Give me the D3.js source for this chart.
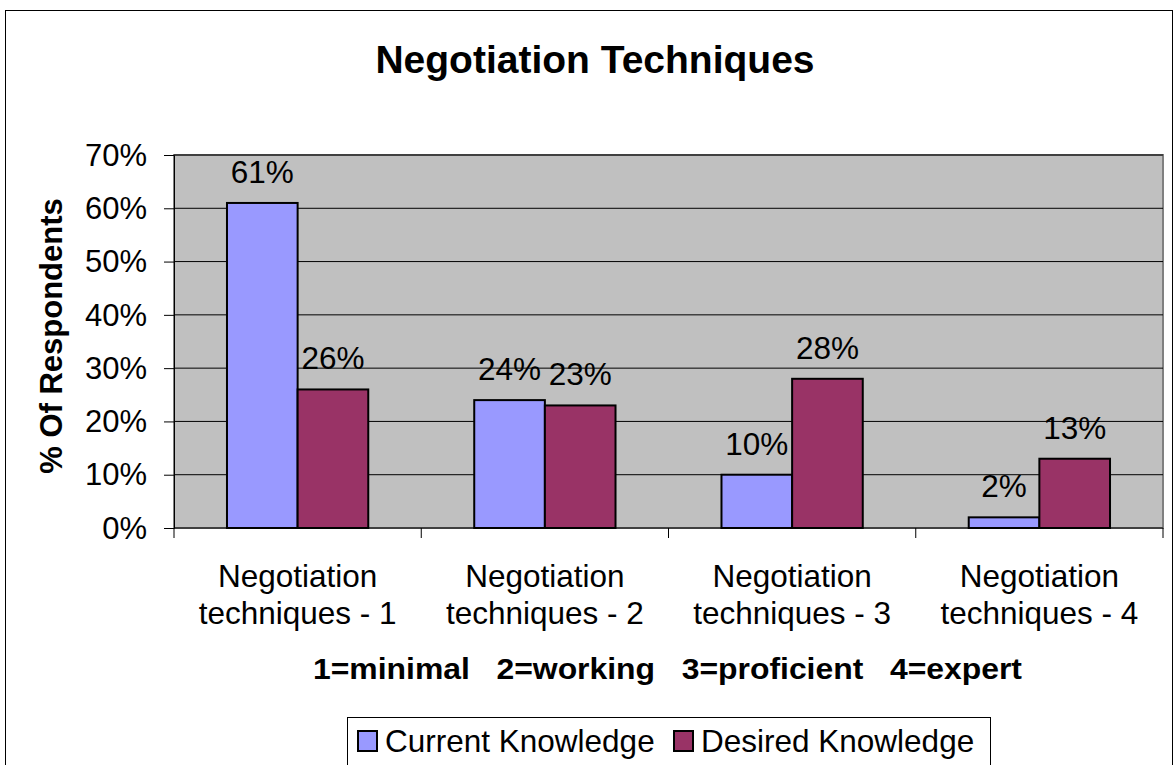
<!DOCTYPE html>
<html>
<head>
<meta charset="utf-8">
<script src="https://cdn.jsdelivr.net/npm/d3@7"></script>
<style>
body { margin: 0; background: #fff; }
text { font-family: "Liberation Sans", Arial, sans-serif; fill: #000; }
</style>
</head>
<body>
<svg id="chart" width="1173" height="765"></svg>
<script>
categories = ['Negotiation techniques - 1', 'Negotiation techniques - 2', 'Negotiation techniques - 3', 'Negotiation techniques - 4'];
seriesNames = ['Current Knowledge', 'Desired Knowledge'];
current = [61, 24, 10, 2];
desired = [26, 23, 28, 13];
yTicks = [0, 10, 20, 30, 40, 50, 60, 70];
colors = ['#9999FF', '#993366'];

width = 1173;
height = 765;
plot = {left: 174, top: 155, right: 1163, bottom: 528};
FONT = '"Liberation Sans", Arial, sans-serif';

svg = d3.select('#chart');

// outer chart border
svg.append('rect')
	.attr('x', 5.5).attr('y', 10.5)
	.attr('width', width - 6).attr('height', height)
	.attr('fill', '#fff').attr('stroke', '#000').attr('stroke-width', 1);

x = d3.scaleBand().domain(categories).range([plot.left, plot.right]);
y = d3.scaleLinear().domain([0, 70]).range([plot.bottom, plot.top]);
// gap width 150% -> group takes 2/3.5 of category
xs = d3.scaleBand().domain(seriesNames)
	.range([0, x.bandwidth() * 2 / 3.5]);
groupOffset = x.bandwidth() * 0.75 / 3.5;

// plot background
svg.append('rect')
	.attr('x', plot.left).attr('y', plot.top)
	.attr('width', plot.right - plot.left).attr('height', plot.bottom - plot.top)
	.attr('fill', '#C0C0C0').attr('stroke', '#808080').attr('stroke-width', 2);

// gridlines
svg.append('g').selectAll('line')
	.data(yTicks.filter(d => d > 0))
	.join('line')
	.attr('x1', plot.left).attr('x2', plot.right)
	.attr('y1', d => y(d)).attr('y2', d => y(d))
	.attr('stroke', '#000').attr('stroke-width', 1);

// y axis
yAxis = svg.append('g')
	.attr('transform', `translate(${plot.left},0)`)
	.call(d3.axisLeft(y).tickValues(yTicks).tickFormat(d => d + '%').tickSize(10).tickPadding(17));
yAxis.select('.domain').attr('stroke', '#000').attr('stroke-width', 1);
yAxis.selectAll('.tick line').attr('stroke', '#000');
yAxis.selectAll('.tick text')
	.attr('font-size', 31)
	.attr('font-family', FONT)
	.attr('dy', '0.33em');

// x axis
xAxis = svg.append('g')
	.attr('transform', `translate(0,${plot.bottom})`);
xAxis.append('line')
	.attr('x1', plot.left).attr('x2', plot.right)
	.attr('stroke', '#000').attr('stroke-width', 1);
xAxis.selectAll('line.tk')
	.data(d3.range(categories.length + 1))
	.join('line').attr('class', 'tk')
	.attr('x1', i => plot.left + i * x.bandwidth())
	.attr('x2', i => plot.left + i * x.bandwidth())
	.attr('y1', 0).attr('y2', 10)
	.attr('stroke', '#000');

catLabels = svg.append('g').selectAll('text')
	.data(categories)
	.join('text')
	.attr('x', d => x(d) + x.bandwidth() / 2)
	.attr('y', 587)
	.attr('text-anchor', 'middle')
	.attr('font-size', 31.5);
catLabels.each(function(d) {
	let parts = d.split(' techniques');
	let t = d3.select(this);
	t.append('tspan').attr('x', t.attr('x')).text(parts[0]);
	t.append('tspan').attr('x', t.attr('x')).attr('dy', 37).text('techniques' + parts[1]);
});

// bars
rows = categories.map((c, i) => ({cat: c, vals: [current[i], desired[i]]}));
groups = svg.append('g').selectAll('g')
	.data(rows)
	.join('g')
	.attr('transform', d => `translate(${x(d.cat) + groupOffset},0)`);
groups.selectAll('rect')
	.data(d => d.vals.map((v, j) => ({name: seriesNames[j], v: v, j: j})))
	.join('rect')
	.attr('x', d => xs(d.name))
	.attr('y', d => y(d.v))
	.attr('width', xs.bandwidth())
	.attr('height', d => y(0) - y(d.v))
	.attr('fill', d => colors[d.j])
	.attr('stroke', '#000').attr('stroke-width', 2);
groups.selectAll('text')
	.data(d => d.vals.map((v, j) => ({name: seriesNames[j], v: v, j: j})))
	.join('text')
	.attr('x', d => xs(d.name) + xs.bandwidth() / 2)
	.attr('y', d => y(d.v) - 20)
	.attr('text-anchor', 'middle')
	.attr('font-size', 31.5)
	.text(d => d.v + '%');

// title
svg.append('text')
	.attr('x', 595).attr('y', 73)
	.attr('text-anchor', 'middle')
	.attr('font-size', 39).attr('font-weight', 'bold')
	.text('Negotiation Techniques');

// y axis title
svg.append('text')
	.attr('transform', 'translate(62,336) rotate(-90)')
	.attr('text-anchor', 'middle')
	.attr('font-size', 31).attr('font-weight', 'bold')
	.text('% Of Respondents');

// x axis title (stretched like the original)
svg.append('text')
	.attr('x', 667.5).attr('y', 679)
	.attr('text-anchor', 'middle')
	.attr('font-size', 30).attr('font-weight', 'bold')
	.attr('textLength', 709).attr('lengthAdjust', 'spacingAndGlyphs')
	.style('white-space', 'pre')
	.text('1=minimal   2=working   3=proficient   4=expert');

// legend
legend = svg.append('g');
legend.append('rect')
	.attr('x', 347.5).attr('y', 717.5)
	.attr('width', 643).attr('height', 60)
	.attr('fill', '#fff').attr('stroke', '#000').attr('stroke-width', 1);
legendX = [357, 673];
seriesNames.forEach((n, i) => {
	legend.append('rect')
		.attr('x', legendX[i] + 1).attr('y', 731)
		.attr('width', 19).attr('height', 20)
		.attr('fill', colors[i]).attr('stroke', '#000').attr('stroke-width', 2);
	legend.append('text')
		.attr('x', legendX[i] + 28).attr('y', 752)
		.attr('font-size', 31.5)
		.text(n);
});
</script>
</body>
</html>
